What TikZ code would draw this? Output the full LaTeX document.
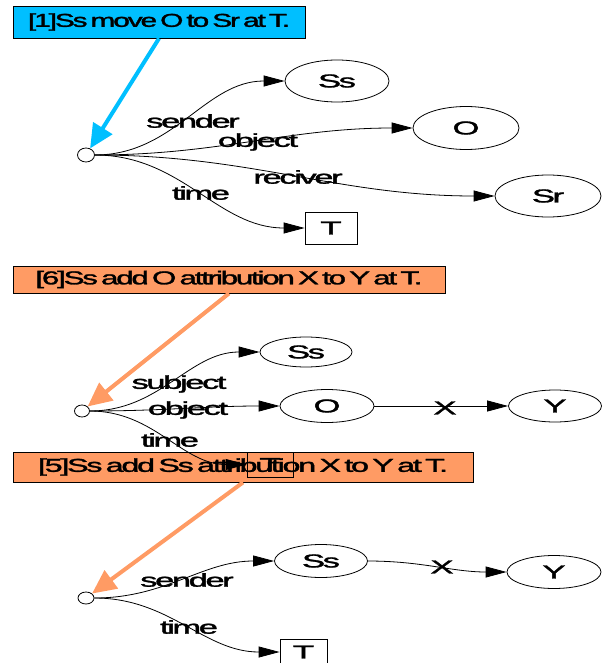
\documentclass[tikz,border=0pt]{standalone}
\usepackage{fontspec}
\usetikzlibrary{arrows.meta,shapes.geometric}
\newfontfamily\gvfont[LetterSpace=-7,WordSpace=0.5,FakeBold=1.4]{Liberation Sans}
\newcommand\gvw[2]{\resizebox{#1}{\height}{#2}}
\newcommand\gs[1]{\scalebox{1.85}[1]{#1}}
\definecolor{skyc}{RGB}{0,191,255}
\definecolor{salm}{RGB}{255,155,100}
\begin{document}
\begin{tikzpicture}[x=1pt,y=-1pt,
  font=\gvfont\fontsize{18.67}{20}\selectfont,
  ell/.style={draw, ellipse, inner sep=0pt, line width=0.8pt},
  pnt/.style={draw, ellipse, inner sep=0pt, minimum width=17pt, minimum height=14pt, line width=0.8pt},
  tbox/.style={draw, rectangle, inner sep=0pt, line width=0.8pt},
  titlebox/.style={draw, rectangle, inner sep=0pt, line width=0.8pt},
  edge/.style={line width=0.8pt, -{Triangle[length=21pt,width=11pt]}},
  lab/.style={inner sep=0pt},
  big/.style={line width=4pt, -{Triangle[length=24pt,width=22pt]}}]
\useasboundingbox (0,0) rectangle (602,663);

% ---------- section 1 ----------
\node[titlebox, fill=skyc, minimum width=292pt, minimum height=32pt] (t1) at (159,22) {\gvw{262pt}{[1]Ss move O to Sr at T.}};
\node[pnt] (c1) at (86,155) {};
\node[ell, minimum width=104pt, minimum height=42pt] (s1) at (337,81) {\gs{Ss}};
\node[ell, minimum width=106pt, minimum height=43pt] (o1) at (466,128) {\gs{O}};
\node[ell, minimum width=106pt, minimum height=42pt] (r1) at (548,196) {\gs{Sr}};
\node[tbox, minimum width=52pt, minimum height=32pt] (tt1) at (331,228) {\gs{T}};
\draw[edge] (c1) to[out=0,in=180] (s1);
\draw[edge] (c1) to[out=0,in=180] (o1);
\draw[edge] (c1) to[out=0,in=180] (r1);
\draw[edge] (c1) to[out=0,in=180] (tt1);
\node[lab] (l1a) at (193,121) {\gs{sender}};
\node[lab] (l1b) at (258,142) {\gs{object}};
\node[lab] (l1c) at (298,177) {\gs{reciver}};
\node[lab] (l1d) at (201,193) {\gs{time}};
\draw[big, skyc] (t1.south) -- (c1);

% ---------- title boxes 6 and 5 ----------
\node[titlebox, fill=salm, minimum width=432pt, minimum height=27pt] (t6) at (229,279.5) {\gvw{387pt}{[6]Ss add O attribution X to Y at T.}};
\node[titlebox, fill=salm, minimum width=460pt, minimum height=30pt] (t5) at (243,467) {\gvw{410pt}{[5]Ss add Ss attribution X to Y at T.}};

% ---------- section 2 ----------
\node[pnt, minimum width=15pt, minimum height=12pt] (c2) at (82,411) {};
\node[ell, minimum width=92pt, minimum height=30pt] (s2) at (306,352) {\gs{Ss}};
\node[ell, minimum width=94pt, minimum height=33pt] (o2) at (327,406) {\gs{O}};
\node[ell, minimum width=93pt, minimum height=32pt] (y2) at (555,406) {\gs{Y}};
\node[tbox, minimum width=46pt, minimum height=25pt] (tt2) at (270,464.5) {\gs{T}};
\draw[edge] (c2) to[out=0,in=180] (s2);
\draw[edge] (c2) to[out=0,in=180] (o2);
\draw[edge] (c2) to[out=0,in=180] (tt2);
\draw[edge] (o2) -- (y2);
\node[lab] (l2a) at (179,384) {\gs{subject}};
\node[lab] (l2b) at (188,410) {\gs{object}};
\node[lab] (l2c) at (170,440) {\gs{time}};
\node[lab] (l2d) at (445,408) {\gs{X}};
\draw[big, salm] (t6.south) -- (c2);

% ---------- section 3 ----------
\node[pnt, minimum width=16pt, minimum height=12pt] (c3) at (86,598) {};
\node[ell, minimum width=93pt, minimum height=33pt] (s3) at (321,561) {\gs{Ss}};
\node[ell, minimum width=94pt, minimum height=33pt] (y3) at (554,572) {\gs{Y}};
\node[tbox, minimum width=47pt, minimum height=25pt] (tt3) at (303.5,652) {\gs{T}};
\draw[edge] (c3) to[out=0,in=180] (s3);
\draw[edge] (c3) to[out=0,in=180] (tt3);
\draw[edge] (s3) to[out=0,in=180] (y3);
\node[lab] (l3a) at (187,580) {\gs{sender}};
\node[lab] (l3b) at (189,627) {\gs{time}};
\node[lab] (l3c) at (442,567) {\gs{X}};
\draw[big, salm] (t5.south) -- (c3);
\end{tikzpicture}
\end{document}
